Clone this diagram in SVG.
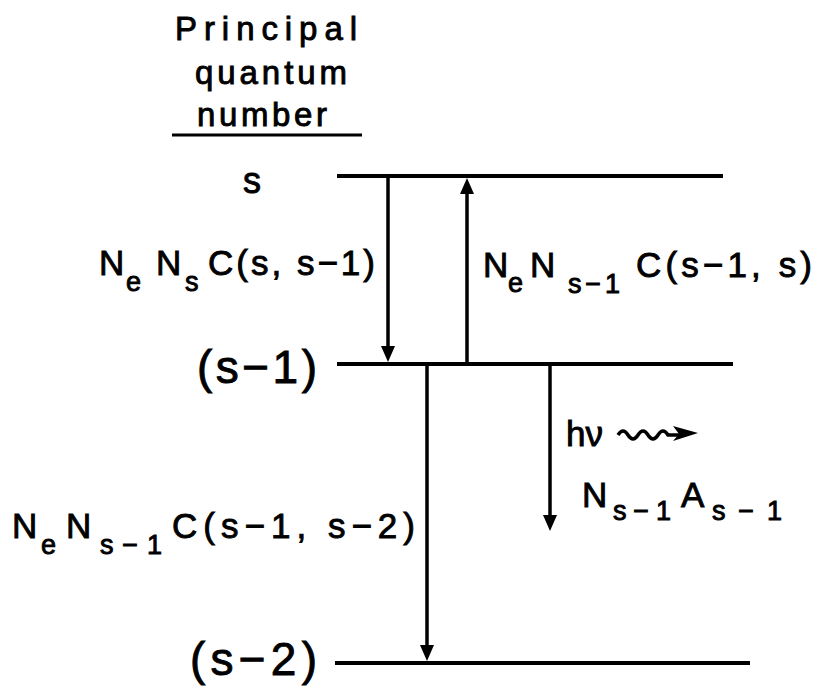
<svg xmlns="http://www.w3.org/2000/svg" width="823" height="686" viewBox="0 0 823 686">
  <defs>
    <style>
      text { font-family: "Liberation Sans", Arial, sans-serif; fill: #000; stroke: #000; stroke-width: 0.9px; }
      .t { font-size: 33px; }
      .m { font-size: 35px; }
      .sub { font-size: 27px; }
      .big { font-size: 46px; }
      .lvl { stroke: #000; stroke-width: 4; fill: none; }
      .arr { stroke: #000; stroke-width: 3.5; fill: none; marker-end: url(#ah); }
    </style>
    <marker id="ah" viewBox="0 0 16 16" refX="6" refY="8" markerWidth="16" markerHeight="16" orient="auto" markerUnits="userSpaceOnUse">
      <path d="M0,1 L16,8 L0,15 Z" fill="#000"/>
    </marker>
  </defs>
  <rect width="823" height="686" fill="#fff"/>

  <g id="title">
    <text class="t" x="175" y="40" textLength="182" lengthAdjust="spacing">Principal</text>
    <text class="t" x="195" y="84" textLength="152" lengthAdjust="spacing">quantum</text>
    <text class="t" x="197" y="126" textLength="130" lengthAdjust="spacing">number</text>
    <line x1="172" y1="135" x2="362" y2="135" stroke="#000" stroke-width="3"/>
  </g>

  <g id="level-s">
    <line class="lvl" x1="337" y1="176" x2="723" y2="176"/>
    <text x="243" y="193" style="font-size:36px">s</text>
  </g>
  <g id="level-s-1">
    <line class="lvl" x1="337" y1="364" x2="733" y2="364"/>
    <text class="big" x="197" y="383" textLength="120" lengthAdjust="spacing">(s−1)</text>
  </g>
  <g id="level-s-2">
    <line class="lvl" x1="335" y1="663" x2="750" y2="663"/>
    <text class="big" x="190" y="675" textLength="127" lengthAdjust="spacing">(s−2)</text>
  </g>

  <g id="label-down-s">
    <text class="m" x="99" y="275">N</text>
    <text class="sub" x="126" y="291">e</text>
    <text class="m" x="156" y="275">N</text>
    <text class="sub" x="185" y="291">s</text>
    <text class="m" x="208" y="275" textLength="167" lengthAdjust="spacing">C(s, s−1)</text>
  </g>
  <g id="label-up-s">
    <text class="m" x="483" y="277">N</text>
    <text class="sub" x="508" y="292">e</text>
    <text class="m" x="530" y="277">N</text>
    <text class="sub" x="568" y="293" textLength="52" lengthAdjust="spacing">s−1</text>
    <text class="m" x="636" y="277" textLength="176" lengthAdjust="spacing">C(s−1, s)</text>
  </g>
  <g id="label-down-s-2">
    <text class="m" x="12" y="538">N</text>
    <text class="sub" x="41" y="554">e</text>
    <text class="m" x="66" y="538">N</text>
    <text class="sub" x="100" y="554" textLength="62" lengthAdjust="spacing">s−1</text>
    <text class="m" x="172" y="538" textLength="243" lengthAdjust="spacing">C(s−1, s−2)</text>
  </g>
  <g id="label-radiative">
    <text class="m" x="566" y="446">hν</text>
    <path d="M618,435 q5,-8 10,0 t10,0 t10,0 t10,0 t10,0 L680,435" stroke="#000" stroke-width="3.5" fill="none"/>
    <path d="M673,426 L698,433 L673,441 L679,434 Z" fill="#000"/>
    <text class="m" x="582" y="507">N</text>
    <text class="sub" x="613" y="520" textLength="58" lengthAdjust="spacing">s−1</text>
    <text class="m" x="681" y="507">A</text>
    <text class="sub" x="712" y="520" textLength="70" lengthAdjust="spacing">s−1</text>
  </g>

  <g id="connectors">
    <line class="arr" x1="388" y1="176" x2="388" y2="352"/>
    <line class="arr" x1="467" y1="364" x2="467" y2="188"/>
    <line class="arr" x1="427" y1="364" x2="427" y2="651"/>
    <line class="arr" x1="550" y1="364" x2="550" y2="521"/>
  </g>
</svg>
